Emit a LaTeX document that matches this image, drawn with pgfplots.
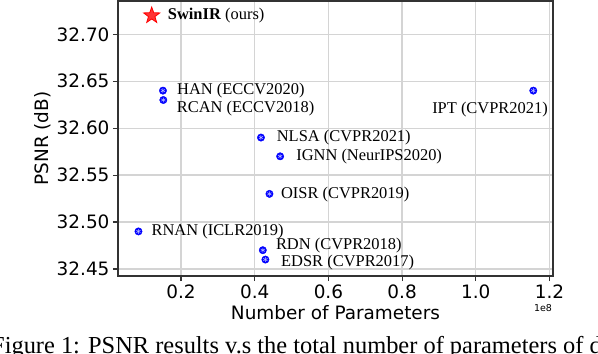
\documentclass[border=0pt]{standalone}
\usepackage{fontspec}
\setmainfont{Liberation Serif}
\newfontfamily\dejavu{DejaVu Sans}
\usepackage{pgfplots}
\usepackage{pgfplotstable}
\pgfplotsset{compat=1.18}

\pgfdeclareplotmark{fstar}{%
  \pgfpathmoveto{\pgfpointpolar{90}{\pgfplotmarksize}}%
  \pgfpathlineto{\pgfpointpolar{126}{0.40\pgfplotmarksize}}%
  \pgfpathlineto{\pgfpointpolar{162}{\pgfplotmarksize}}%
  \pgfpathlineto{\pgfpointpolar{198}{0.40\pgfplotmarksize}}%
  \pgfpathlineto{\pgfpointpolar{234}{\pgfplotmarksize}}%
  \pgfpathlineto{\pgfpointpolar{270}{0.40\pgfplotmarksize}}%
  \pgfpathlineto{\pgfpointpolar{306}{\pgfplotmarksize}}%
  \pgfpathlineto{\pgfpointpolar{342}{0.40\pgfplotmarksize}}%
  \pgfpathlineto{\pgfpointpolar{18}{\pgfplotmarksize}}%
  \pgfpathlineto{\pgfpointpolar{54}{0.40\pgfplotmarksize}}%
  \pgfpathclose
  \pgfusepathqfillstroke
}

\pgfplotstableread{
x y
0.151 32.64
0.152 32.63
0.417 32.59
0.469 32.57
0.440 32.53
0.0845 32.49
0.422 32.47
0.429 32.46
1.156 32.64
}\others

\pgfplotstableread{
x y
0.1205 32.72
}\swinir

\begin{document}
\begin{tikzpicture}
\begin{axis}[name=ax, scale only axis, width=435bp, height=275bp,
  xmin=0.029, xmax=1.2095, ymin=32.4425, ymax=32.7355,
  xtick={0.2,0.4,0.6,0.8,1.0,1.2},
  ytick={32.45,32.50,32.55,32.60,32.65,32.70},
  scaled x ticks=false, scaled y ticks=false,
  xticklabel style={/pgf/number format/.cd, fixed, fixed zerofill, precision=1},
  yticklabel style={/pgf/number format/.cd, fixed, fixed zerofill, precision=2},
  /pgf/number format/assume math mode=true,
  tick label style={font=\dejavu\fontsize{18.5}{20}\selectfont},
  grid=major, major grid style={draw=black!17, line width=1.3bp},
  axis line style={draw=black!80, line width=1.2bp},
  tick align=outside, tick pos=left, major tick length=5bp,
  tick style={draw=black!80, line width=1.2bp},
  xlabel={Number of Parameters}, ylabel={PSNR (dB)},
  label style={font=\dejavu\fontsize{18.5}{20}\selectfont},
  xlabel style={at={(axis description cs:0.5,-0.1345)}, anchor=center},
  ylabel style={at={(axis description cs:-0.1724,0.5)}, anchor=center},
  clip=false,
]
\addplot[only marks, mark=*, mark size=3.7bp, mark options={fill=blue, draw=blue}] table {\others};
\addplot[only marks, mark=asterisk, mark size=2.4bp, mark options={draw=blue!25!white, line width=0.5bp}] table {\others};
\addplot[only marks, mark=fstar, mark size=8.5bp, mark options={fill=red!80!white, draw=red, line width=0.8bp}] table {\swinir};

\begin{scope}[every node/.style={font=\fontsize{16.5}{18}\selectfont, inner sep=0pt}]
\node[anchor=west, xshift=16bp] at (axis cs:0.1205,32.72) {\textbf{SwinIR} (ours)};
\node[anchor=west, xshift=14bp] at (axis cs:0.151,32.64) {HAN (ECCV2020)};
\node[anchor=west, xshift=13.4bp, yshift=-8.5bp] at (axis cs:0.152,32.63) {RCAN (ECCV2018)};
\node[anchor=west, xshift=15.7bp] at (axis cs:0.417,32.59) {NLSA (CVPR2021)};
\node[anchor=west, xshift=16bp] at (axis cs:0.469,32.57) {IGNN (NeurIPS2020)};
\node[anchor=west, xshift=11.4bp, yshift=-1bp] at (axis cs:0.440,32.53) {OISR (CVPR2019)};
\node[anchor=west, xshift=13bp] at (axis cs:0.0845,32.49) {RNAN (ICLR2019)};
\node[anchor=west, xshift=13bp, yshift=4.5bp] at (axis cs:0.422,32.47) {RDN (CVPR2018)};
\node[anchor=west, xshift=15.6bp, yshift=-3.4bp] at (axis cs:0.429,32.46) {EDSR (CVPR2017)};
\node[anchor=east, xshift=14.7bp, yshift=-19.3bp] at (axis cs:1.156,32.64) {IPT (CVPR2021)};
\end{scope}
\node[font=\dejavu\fontsize{9.5}{10}\selectfont] at (axis description cs:0.977,-0.116) {1e8};
\end{axis}
\node[anchor=base west, font=\fontsize{24.5}{26}\selectfont, inner sep=0pt] at ([xshift=-127bp, yshift=-77bp]ax.south west) {Figure 1: PSNR results v.s the total number of parameters of different methods};
\pgfresetboundingbox
\path[use as bounding box] ([xshift=-118bp,yshift=-78bp]ax.south west) rectangle ([xshift=45bp,yshift=1bp]ax.north east);
\end{tikzpicture}
\end{document}
